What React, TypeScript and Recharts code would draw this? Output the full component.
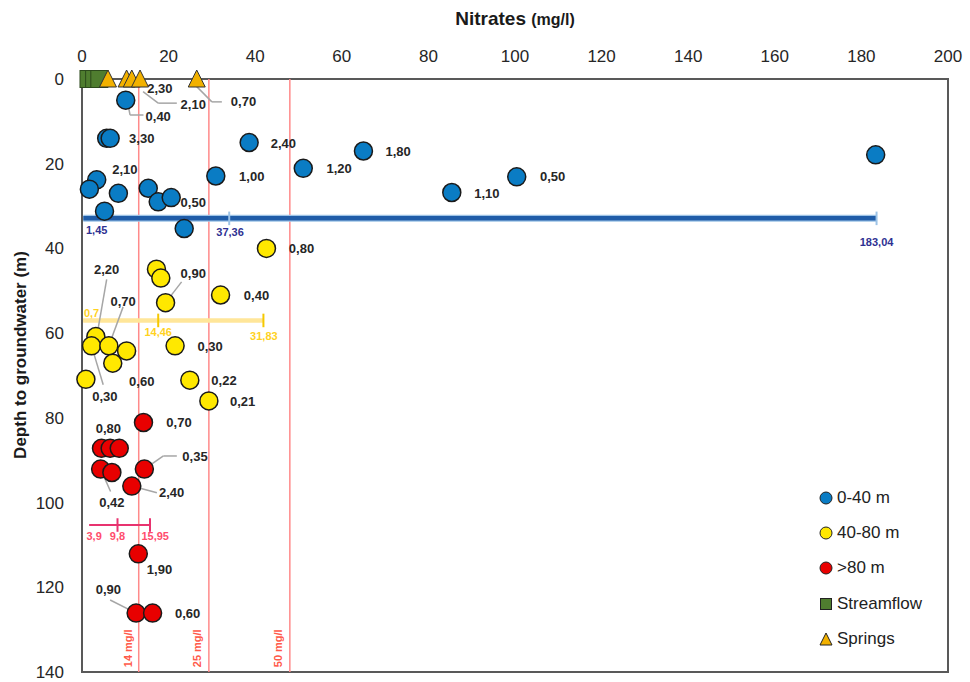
import { ScatterChart, Scatter, XAxis, YAxis, ReferenceLine, ReferenceArea, Label } from 'recharts';

const FONT = '"Liberation Sans", Arial, sans-serif';

// axis ticks
const xTicks = [0, 20, 40, 60, 80, 100, 120, 140, 160, 180, 200];
const yTicks = [0, 20, 40, 60, 80, 100, 120, 140];

// wells by depth class (x = nitrates mg/l, y = depth m)
const blue0to40 = [
  { x: 10.1, y: 5.0 }, { x: 5.7, y: 14.0 }, { x: 6.5, y: 14.0 }, { x: 3.4, y: 23.8 },
  { x: 1.7, y: 26.0 }, { x: 8.4, y: 27.0 }, { x: 5.2, y: 31.2 }, { x: 15.3, y: 25.8 },
  { x: 17.6, y: 29.0 }, { x: 20.6, y: 28.0 }, { x: 30.9, y: 22.9 }, { x: 38.6, y: 15.0 },
  { x: 23.6, y: 35.3 }, { x: 51.1, y: 21.1 }, { x: 65.0, y: 17.0 }, { x: 85.4, y: 26.8 },
  { x: 100.4, y: 23.1 }, { x: 183.3, y: 17.9 },
];
const yellow40to80 = [
  { x: 42.6, y: 40.0 }, { x: 17.2, y: 44.9 }, { x: 18.2, y: 47.0 }, { x: 19.3, y: 52.8 },
  { x: 32.0, y: 51.0 }, { x: 3.2, y: 60.8 }, { x: 2.2, y: 63.0 }, { x: 6.2, y: 63.0 },
  { x: 10.3, y: 64.2 }, { x: 7.1, y: 67.1 }, { x: 0.9, y: 70.9 }, { x: 21.5, y: 63.0 },
  { x: 24.9, y: 71.1 }, { x: 29.3, y: 76.0 },
];
const redOver80 = [
  { x: 14.2, y: 81.1 }, { x: 4.5, y: 87.2 }, { x: 6.5, y: 87.2 }, { x: 8.6, y: 87.2 },
  { x: 4.3, y: 92.1 }, { x: 6.9, y: 92.9 }, { x: 14.4, y: 92.1 }, { x: 11.5, y: 96.1 },
  { x: 13.0, y: 112.1 }, { x: 12.5, y: 126.1 }, { x: 16.3, y: 126.1 },
];
const streamflow = [{ x: 1.5, y: 0 }, { x: 2.8, y: 0 }, { x: 4.0, y: 0 }];
const springs = [{ x: 6.0, y: 0 }, { x: 10.3, y: 0 }, { x: 11.5, y: 0 }, { x: 13.4, y: 0 }, { x: 26.5, y: 0 }];

// value labels next to the points
const pointLabels = [
  { x: 18.0, y: 2.2, text: '2,30' }, { x: 25.7, y: 5.9, text: '2,10' }, { x: 37.3, y: 5.4, text: '0,70' },
  { x: 17.6, y: 8.9, text: '0,40' }, { x: 13.8, y: 14.0, text: '3,30' }, { x: 9.9, y: 21.3, text: '2,10' },
  { x: 25.7, y: 29.2, text: '0,50' }, { x: 39.2, y: 23.1, text: '1,00' }, { x: 46.5, y: 15.2, text: '2,40' },
  { x: 59.4, y: 21.2, text: '1,20' }, { x: 73.0, y: 17.0, text: '1,80' }, { x: 93.5, y: 27.0, text: '1,10' },
  { x: 108.7, y: 23.1, text: '0,50' },
  { x: 50.7, y: 40.0, text: '0,80' }, { x: 5.7, y: 44.9, text: '2,20' }, { x: 9.5, y: 52.6, text: '0,70' },
  { x: 25.7, y: 45.9, text: '0,90' }, { x: 40.3, y: 51.0, text: '0,40' }, { x: 5.3, y: 75.0, text: '0,30' },
  { x: 13.8, y: 71.5, text: '0,60' }, { x: 29.6, y: 63.2, text: '0,30' }, { x: 32.8, y: 71.1, text: '0,22' },
  { x: 37.1, y: 76.2, text: '0,21' },
  { x: 22.4, y: 81.1, text: '0,70' }, { x: 6.1, y: 82.5, text: '0,80' }, { x: 26.1, y: 89.0, text: '0,35' },
  { x: 6.9, y: 100.0, text: '0,42' }, { x: 20.7, y: 97.7, text: '2,40' }, { x: 17.9, y: 115.7, text: '1,90' },
  { x: 6.1, y: 120.5, text: '0,90' }, { x: 24.4, y: 126.1, text: '0,60' },
];

// leader lines from point to its label
const leaders = [
  [{ x: 14.1, y: 3.0 }, { x: 17.6, y: 5.7 }, { x: 21.9, y: 5.7 }],
  [{ x: 26.5, y: 1.8 }, { x: 30.0, y: 5.4 }, { x: 32.3, y: 5.4 }],
  [{ x: 10.5, y: 5.4 }, { x: 11.1, y: 8.5 }, { x: 14.2, y: 8.5 }],
  [{ x: 3.4, y: 60.8 }, { x: 5.7, y: 47.3 }],
  [{ x: 6.2, y: 63.0 }, { x: 9.5, y: 53.8 }],
  [{ x: 19.3, y: 52.8 }, { x: 23.0, y: 47.9 }],
  [{ x: 2.2, y: 63.0 }, { x: 4.9, y: 72.2 }],
  [{ x: 14.4, y: 92.1 }, { x: 18.8, y: 89.0 }, { x: 21.9, y: 89.0 }],
  [{ x: 4.3, y: 92.1 }, { x: 6.6, y: 97.4 }],
  [{ x: 11.5, y: 96.1 }, { x: 17.3, y: 97.7 }],
  [{ x: 6.5, y: 123.0 }, { x: 12.5, y: 126.1 }],
];

// min / mean / max bars per depth class
const ranges = [
  { y: 32.9, from: 0.3, mid: 34.0, to: 183.5, line: '#1f5ca8', edge: '#9dc3e6', tick: '#9dc3e6', text: '#2e3192' },
  { y: 57.0, from: 0.3, mid: 17.6, to: 41.9, line: '#ffe699', edge: '#ffe699', tick: '#f5c800', text: '#ffd21f' },
  { y: 105.3, from: 1.7, mid: 8.2, to: 15.7, line: '#e8336f', edge: '#e8336f', tick: '#e8336f', text: '#ff4d6d' },
];
const rangeLabels = [
  [{ x: 3.4, y: 35.6, text: '1,45' }, { x: 34.2, y: 36.2, text: '37,36' }, { x: 183.5, y: 38.4, text: '183,04' }],
  [{ x: 2.2, y: 55.2, text: '0,7' }, { x: 17.6, y: 59.7, text: '14,46' }, { x: 42.0, y: 60.7, text: '31,83' }],
  [{ x: 2.8, y: 108.0, text: '3,9' }, { x: 8.2, y: 108.0, text: '9,8' }, { x: 16.9, y: 108.0, text: '15,95' }],
];

// guide values drawn as vertical lines
const guideLines = [13.1, 29.3, 48.0];
const guideLabels = [
  { x: 10.7, y: 134.4, text: '14 mg/l' },
  { x: 26.6, y: 134.4, text: '25 mg/l' },
  { x: 45.3, y: 134.4, text: '50 mg/l' },
];

const legendItems = [
  { name: '0-40 m', kind: 'circle', fill: '#0a7cc4' },
  { name: '40-80 m', kind: 'circle', fill: '#ffe800' },
  { name: '>80 m', kind: 'circle', fill: '#e80000' },
  { name: 'Streamflow', kind: 'square', fill: '#4f7d2f' },
  { name: 'Springs', kind: 'triangle', fill: '#f2b100' },
];

const circleShape = (fill: string) => (p: any) => (
  <circle cx={p.cx} cy={p.cy} r={9} fill={fill} stroke="#1a1a1a" strokeWidth={1.5} />
);
const squareShape = (p: any) => (
  <rect x={p.cx - 8.5} y={p.cy - 8.5} width={17} height={17} fill="#4f7d2f" stroke="#2c4a1c" strokeWidth={1} />
);
const triangleShape = (p: any) => (
  <path d={`M${p.cx},${p.cy - 9}L${p.cx + 8.5},${p.cy + 8}L${p.cx - 8.5},${p.cy + 8}Z`} fill="#f2b100" stroke="#333" strokeWidth={1} />
);
const textShape = (color: string, size: number) => (p: any) => (
  <text x={p.cx} y={p.cy} dy="0.35em" textAnchor="middle" fontFamily={FONT} fontSize={size} fontWeight="bold" fill={color}>
    {p.payload.text}
  </text>
);
const rotatedText = (p: any) => (
  <text x={p.cx} y={p.cy} dy="0.35em" textAnchor="middle" fontFamily={FONT} fontSize={11} fontWeight="bold" fill="#ff5a4a"
    transform={`rotate(-90 ${p.cx} ${p.cy})`}>
    {p.payload.text}
  </text>
);

function LegendBox() {
  return (
    <div style={{ position: 'absolute', left: 818, top: 480, fontFamily: FONT, fontSize: 17, color: '#222' }}>
      {legendItems.map(item => (
        <div key={item.name} style={{ display: 'flex', alignItems: 'center', height: 35.3 }}>
          <svg width={16} height={16} style={{ marginRight: 3 }}>
            {item.kind === 'circle' && <circle cx={8} cy={8} r={6} fill={item.fill} stroke="#222" strokeWidth={1} />}
            {item.kind === 'square' && <rect x={2.5} y={2.5} width={11} height={11} fill={item.fill} stroke="#222" strokeWidth={1} />}
            {item.kind === 'triangle' && <path d="M8,2L14,14L2,14Z" fill={item.fill} stroke="#222" strokeWidth={1} />}
          </svg>
          <span>{item.name}</span>
        </div>
      ))}
    </div>
  );
}

export default function App() {
  return (
    <div style={{ position: 'absolute', left: 0, top: 0, width: 970, height: 682, background: '#fff' }}>
      <ScatterChart width={970} height={682} margin={{ top: 49, right: 22, bottom: 10, left: 22 }}>
        <XAxis
          type="number" dataKey="x" orientation="top" domain={[0, 200]} ticks={xTicks}
          axisLine={false} tickLine={false} tickSize={0} tickMargin={17} height={30}
          tick={{ fontSize: 17, fill: '#262626', fontFamily: FONT }}
        >
          <Label content={() => (
            <text x={515} y={25} textAnchor="middle" fontFamily={FONT} fontWeight="bold" fill="#1a1a1a">
              <tspan fontSize={19}>Nitrates </tspan>
              <tspan fontSize={16}>(mg/l)</tspan>
            </text>
          )} />
        </XAxis>
        <YAxis
          type="number" dataKey="y" domain={[0, 140]} ticks={yTicks} reversed
          axisLine={false} tickLine={false} tickSize={0} tickMargin={18} width={60}
          tick={{ fontSize: 17, fill: '#262626', fontFamily: FONT }}
        >
          <Label content={() => (
            <text x={20} y={355} textAnchor="middle" dominantBaseline="central" fontFamily={FONT} fontSize={17}
              fontWeight="bold" fill="#1a1a1a" transform="rotate(-90 20 355)">
              Depth to groundwater (m)
            </text>
          )} />
        </YAxis>
        <ReferenceArea x1={0} x2={200} y1={0} y2={140} fill="none" stroke="#595959" strokeWidth={2} ifOverflow="visible" />
        {guideLines.map(v => (
          <ReferenceLine key={v} x={v} stroke="#ff8a8a" strokeWidth={1.5} />
        ))}
        {ranges.map((r, i) => [
          <ReferenceLine key={`e${i}`} segment={[{ x: r.from, y: r.y }, { x: r.to, y: r.y }]} stroke={r.edge}
            strokeWidth={i === 0 ? 7 : i === 1 ? 4 : 2} ifOverflow="visible" />,
          <ReferenceLine key={`l${i}`} segment={[{ x: r.from, y: r.y }, { x: r.to, y: r.y }]} stroke={r.line}
            strokeWidth={i === 0 ? 4.5 : i === 1 ? 4 : 2} ifOverflow="visible" />,
          <ReferenceLine key={`m${i}`} segment={[{ x: r.mid, y: r.y - 1.6 }, { x: r.mid, y: r.y + 1.6 }]} stroke={r.tick}
            strokeWidth={2} ifOverflow="visible" />,
          <ReferenceLine key={`t${i}`} segment={[{ x: r.to, y: r.y - 1.6 }, { x: r.to, y: r.y + 1.6 }]} stroke={r.tick}
            strokeWidth={2} ifOverflow="visible" />,
        ])}
        {rangeLabels.map((labels, i) => (
          <Scatter key={`rl${i}`} data={labels} shape={textShape(ranges[i].text, 11)} isAnimationActive={false} />
        ))}
        <Scatter data={guideLabels} shape={rotatedText} isAnimationActive={false} />
        <Scatter data={blue0to40} shape={circleShape('#0a7cc4')} isAnimationActive={false} />
        <Scatter data={yellow40to80} shape={circleShape('#ffe800')} isAnimationActive={false} />
        <Scatter data={redOver80} shape={circleShape('#e80000')} isAnimationActive={false} />
        <Scatter data={streamflow} shape={squareShape} isAnimationActive={false} />
        <Scatter data={springs} shape={triangleShape} isAnimationActive={false} />
        {leaders.map((pts, i) => pts.slice(1).map((p, j) => (
          <ReferenceLine key={`ld${i}-${j}`} segment={[pts[j], p]} stroke="#a6a6a6" strokeWidth={1.5} ifOverflow="visible" />
        )))}
        <Scatter data={pointLabels} shape={textShape('#262626', 13)} isAnimationActive={false} />
      </ScatterChart>
      <LegendBox />
    </div>
  );
}
